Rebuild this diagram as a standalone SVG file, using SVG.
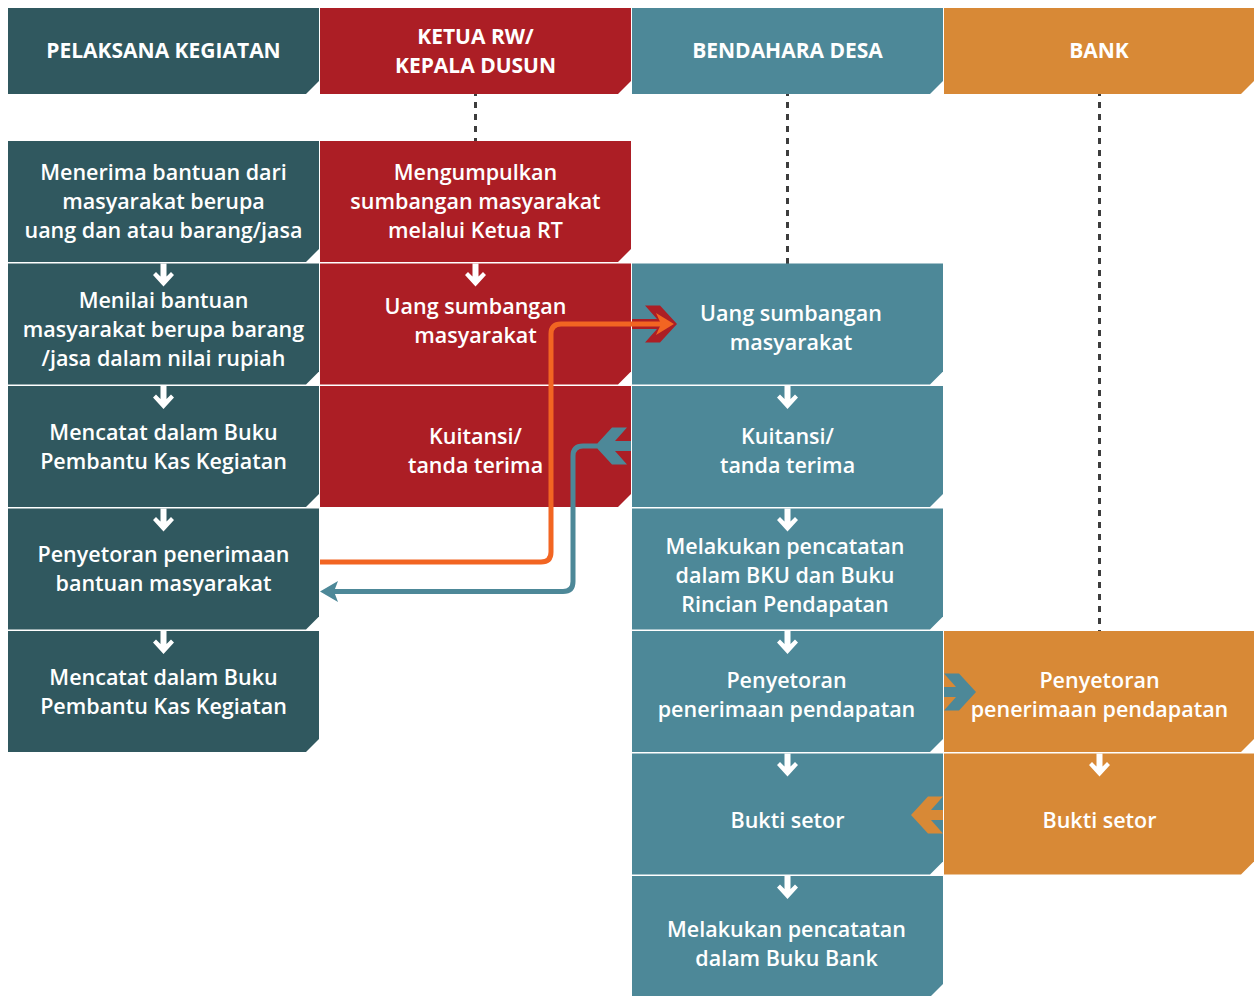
<svg xmlns="http://www.w3.org/2000/svg" width="1254" height="996" viewBox="0 0 1254 996">
  <style>
    .c1 { fill: #30585f; }
    .c2 { fill: #ac1e25; }
    .c3 { fill: #4d8898; }
    .c4 { fill: #d88936; }
    .hd { font-family: "Open Sans", "Liberation Sans", sans-serif; font-weight: 700; font-size: 21px; fill: #ffffff; text-anchor: middle; }
    .tx { font-family: "Open Sans", "Liberation Sans", sans-serif; font-weight: 600; font-size: 21.5px; fill: #ffffff; text-anchor: middle; }
    .dash { stroke: #3d3d3d; stroke-width: 3; stroke-dasharray: 6 6; fill: none; }
    .sep { stroke: #ffffff; stroke-width: 1; fill: none; }
  </style>
  <defs>
    <!-- small white step arrow, origin at top of the row it points into -->
    <path id="down" d="M-3,0 H3 V13 L7.5,8.5 L10.5,11.5 L0,23 L-10.5,11.5 L-7.5,8.5 L-3,13 Z" fill="#ffffff"/>
    <!-- wide hand-over arrow, tip at origin, pointing right -->
    <path id="hand" d="M0,0 L-17,-18.5 L-32,-18.5 L-20,-5 L-52,-5 L-52,5 L-20,5 L-32,18.5 L-17,18.5 Z"/>
  </defs>

  <rect width="1254" height="996" fill="#ffffff"/>

  <!-- lifeline dashes under the column headers -->
  <g id="lifelines">
    <line class="dash" x1="475.5" y1="90" x2="475.5" y2="145"/>
    <line class="dash" x1="787.5" y1="90" x2="787.5" y2="266"/>
    <line class="dash" x1="1099.5" y1="90" x2="1099.5" y2="634"/>
  </g>

  <!-- column headers -->
  <g id="hdr-pelaksana">
    <path class="c1" d="M8,8 H319 V81 L306,94 H8 Z"/>
    <text class="hd" x="163.5" y="58">PELAKSANA KEGIATAN</text>
  </g>
  <g id="hdr-ketua">
    <path class="c2" d="M320,8 H631 V81 L618,94 H320 Z"/>
    <text class="hd" x="475.5" y="44">KETUA RW/</text>
    <text class="hd" x="475.5" y="73">KEPALA DUSUN</text>
  </g>
  <g id="hdr-bendahara">
    <path class="c3" d="M632,8 H943 V81 L930,94 H632 Z"/>
    <text class="hd" x="787.5" y="58">BENDAHARA DESA</text>
  </g>
  <g id="hdr-bank">
    <path class="c4" d="M944,8 H1254 V81 L1241,94 H944 Z"/>
    <text class="hd" x="1099" y="58">BANK</text>
  </g>

  <!-- Pelaksana Kegiatan lane -->
  <g id="p1">
    <path class="c1" d="M8,141 H319 V249 L306,262 H8 Z"/>
    <text class="tx" x="163.5" y="180">Menerima bantuan dari</text>
    <text class="tx" x="163.5" y="209">masyarakat berupa</text>
    <text class="tx" x="163.5" y="238">uang dan atau barang/jasa</text>
  </g>
  <g id="p2">
    <path class="c1" d="M8,263.5 H319 V371.5 L306,384.5 H8 Z"/>
    <text class="tx" x="163.5" y="308">Menilai bantuan</text>
    <text class="tx" x="163.5" y="337">masyarakat berupa barang</text>
    <text class="tx" x="163.5" y="366">/jasa dalam nilai rupiah</text>
  </g>
  <g id="p3">
    <path class="c1" d="M8,386 H319 V494 L306,507 H8 Z"/>
    <text class="tx" x="163.5" y="440">Mencatat dalam Buku</text>
    <text class="tx" x="163.5" y="469">Pembantu Kas Kegiatan</text>
  </g>
  <g id="p4">
    <path class="c1" d="M8,508.5 H319 V616.5 L306,629.5 H8 Z"/>
    <text class="tx" x="163.5" y="562">Penyetoran penerimaan</text>
    <text class="tx" x="163.5" y="591">bantuan masyarakat</text>
  </g>
  <g id="p5">
    <path class="c1" d="M8,631 H319 V739 L306,752 H8 Z"/>
    <text class="tx" x="163.5" y="685">Mencatat dalam Buku</text>
    <text class="tx" x="163.5" y="714">Pembantu Kas Kegiatan</text>
  </g>

  <!-- Ketua RW / Kepala Dusun lane -->
  <g id="k1">
    <path class="c2" d="M320,141 H631 V249 L618,262 H320 Z"/>
    <text class="tx" x="475.5" y="180">Mengumpulkan</text>
    <text class="tx" x="475.5" y="209">sumbangan masyarakat</text>
    <text class="tx" x="475.5" y="238">melalui Ketua RT</text>
  </g>
  <g id="k2">
    <path class="c2" d="M320,263.5 H631 V371.5 L618,384.5 H320 Z"/>
    <text class="tx" x="475.5" y="314">Uang sumbangan</text>
    <text class="tx" x="475.5" y="343">masyarakat</text>
  </g>
  <g id="k3">
    <path class="c2" d="M320,386 H631 V494 L618,507 H320 Z"/>
    <text class="tx" x="475.5" y="444">Kuitansi/</text>
    <text class="tx" x="475.5" y="473">tanda terima</text>
  </g>

  <!-- Bendahara Desa lane -->
  <g id="b2">
    <path class="c3" d="M632,263.5 H943 V371.5 L930,384.5 H632 Z"/>
    <text class="tx" x="791" y="321">Uang sumbangan</text>
    <text class="tx" x="791" y="350">masyarakat</text>
  </g>
  <g id="b3">
    <path class="c3" d="M632,386 H943 V494 L930,507 H632 Z"/>
    <text class="tx" x="787.5" y="444">Kuitansi/</text>
    <text class="tx" x="787.5" y="473">tanda terima</text>
  </g>
  <g id="b4">
    <path class="c3" d="M632,508.5 H943 V616.5 L930,629.5 H632 Z"/>
    <text class="tx" x="785" y="554">Melakukan pencatatan</text>
    <text class="tx" x="785" y="583">dalam BKU dan Buku</text>
    <text class="tx" x="785" y="612">Rincian Pendapatan</text>
  </g>
  <g id="b5">
    <path class="c3" d="M632,631 H943 V739 L930,752 H632 Z"/>
    <text class="tx" x="786.5" y="688">Penyetoran</text>
    <text class="tx" x="786.5" y="717">penerimaan pendapatan</text>
  </g>
  <g id="b6">
    <path class="c3" d="M632,753.5 H943 V861.5 L930,874.5 H632 Z"/>
    <text class="tx" x="787.5" y="828">Bukti setor</text>
  </g>
  <g id="b7">
    <path class="c3" d="M632,876 H943 V984 L930,997 H632 Z"/>
    <text class="tx" x="786.5" y="937">Melakukan pencatatan</text>
    <text class="tx" x="786.5" y="966">dalam Buku Bank</text>
  </g>

  <!-- Bank lane -->
  <g id="n5">
    <path class="c4" d="M944,631 H1254 V739 L1241,752 H944 Z"/>
    <text class="tx" x="1099.5" y="688">Penyetoran</text>
    <text class="tx" x="1099.5" y="717">penerimaan pendapatan</text>
  </g>
  <g id="n6">
    <path class="c4" d="M944,753.5 H1254 V861.5 L1241,874.5 H944 Z"/>
    <text class="tx" x="1099.5" y="828">Bukti setor</text>
  </g>

  <!-- connectors -->
  <g id="connectors">
    <!-- step arrows inside each lane -->
    <use href="#down" x="163.5" y="263.5"/>
    <use href="#down" x="163.5" y="386"/>
    <use href="#down" x="163.5" y="508.5"/>
    <use href="#down" x="163.5" y="631"/>
    <use href="#down" x="475.5" y="263.5"/>
    <use href="#down" x="787.5" y="386"/>
    <use href="#down" x="787.5" y="508.5"/>
    <use href="#down" x="787.5" y="631"/>
    <use href="#down" x="787.5" y="753.5"/>
    <use href="#down" x="787.5" y="876"/>
    <use href="#down" x="1099.5" y="753.5"/>

    <!-- hand-over arrows between lanes -->
    <use href="#hand" class="c2" transform="translate(677,324)"/>
    <use href="#hand" class="c3" transform="translate(595,446) scale(-1,1)"/>
    <use href="#hand" class="c3" transform="translate(976,692)"/>
    <use href="#hand" class="c4" transform="translate(911,815) scale(-1,1)"/>

    <!-- lane separators kept visible over the hand-over arrows -->
    <line class="sep" x1="631.5" y1="263.5" x2="631.5" y2="507"/>
    <line class="sep" x1="943.5" y1="631" x2="943.5" y2="875"/>

    <!-- money handed over: Pelaksana -> Bendahara -->
    <path d="M320,562 H541 Q551,562 551,552 V334 Q551,324 561,324 H662" fill="none" stroke="#f26522" stroke-width="5"/>
    <path d="M674,324 L656,313 L661,324 L656,335 Z" fill="#f26522"/>

    <!-- receipt returned: Bendahara -> Pelaksana -->
    <path d="M597,446 H583 Q573,446 573,456 V581.5 Q573,591.5 563,591.5 H332" fill="none" stroke="#4d8898" stroke-width="5"/>
    <path d="M320,591.5 L338,581 L334,591.5 L338,602 Z" fill="#4d8898"/>
  </g>
</svg>
